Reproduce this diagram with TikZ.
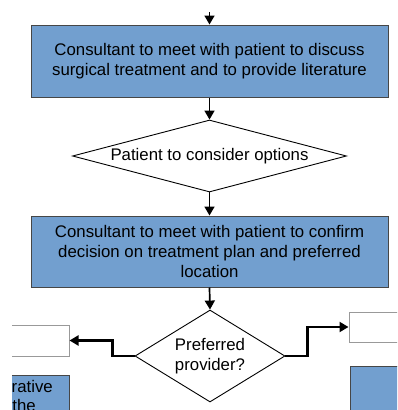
\documentclass[tikz,border=0pt]{standalone}
\usepackage{fontspec}
\setmainfont{Liberation Sans}
\usetikzlibrary{shapes.geometric,arrows.meta}
\definecolor{boxblue}{RGB}{114,159,207}
\definecolor{edgegray}{RGB}{70,70,70}
\begin{document}
\begin{tikzpicture}[x=1pt,y=-1pt,
  font=\fontsize{16.8}{20}\selectfont,
  bluebox/.style={draw=edgegray, fill=boxblue, line width=1pt, inner sep=0pt, align=center},
  whitebox/.style={draw=gray!80, fill=white, line width=1pt, inner sep=0pt},
  decision/.style={draw=black, fill=white, diamond, line width=0.9pt, inner sep=0pt, align=center},
  flow/.style={line width=1.7pt, -{Triangle[length=9pt,width=10pt]}},
  sideflow/.style={line width=2.2pt, -{Triangle[length=9pt,width=10pt]}}]
\useasboundingbox (0,0) rectangle (397,410);
\begin{scope}
\clip (12,0) rectangle (397,410);
\coordinate (top) at (209.5,12);
\node[bluebox, minimum width=357, minimum height=72] (b1) at (209.5,61)
  {Consultant to meet with patient to discuss\\surgical treatment and to provide literature};
\node[decision, aspect=3.8, minimum width=274, minimum height=72] (d1) at (209.5,156)
  {Patient to consider options};
\node[bluebox, minimum width=357, minimum height=71] (b2) at (209.5,251.5)
  {Consultant to meet with patient to confirm\\decision on treatment plan and preferred\\location};
\node[decision, aspect=1.6, minimum width=150, minimum height=92] (d2) at (210,356)
  {Preferred\\provider?};
\node[whitebox, minimum width=70, minimum height=31] (lw) at (34,340.5) {};
\node[whitebox, minimum width=70, minimum height=30] (rw) at (384,327) {};
\node[bluebox, minimum width=110, minimum height=60] (lb) at (14,405) {};
\node[anchor=east, inner sep=0pt] (lt1) at (53,386) {rative};
\node[anchor=east, inner sep=0pt] (lt2) at (36,405) {the};
\node[bluebox, minimum width=70, minimum height=60] (rb) at (385,396) {};
\draw[flow] (top) -- (b1.north);
\draw[flow] (b1.south) -- (d1.north);
\draw[flow] (d1.south) -- (b2.north);
\draw[flow] (b2.south) -- (d2.north);
\draw[sideflow] (d2.west) -- ++(-22,0) |- (lw.east);
\draw[sideflow] (d2.east) -- ++(22,0) |- (rw.west);
\end{scope}
\end{tikzpicture}
\end{document}
